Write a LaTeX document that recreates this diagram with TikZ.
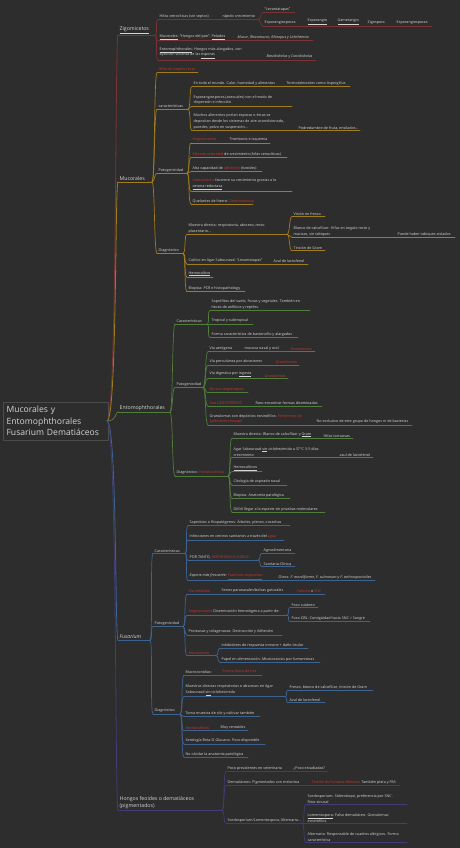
\documentclass[tikz,border=0pt]{standalone}
\usepackage{fontspec}
\setmainfont{Open Sans}
\definecolor{bg}{HTML}{2D2D2D}
\definecolor{txt}{HTML}{D4D4D4}
\definecolor{hl}{HTML}{C8372D}
\definecolor{zig}{HTML}{7A3232}
\definecolor{muc}{HTML}{A07C1C}
\definecolor{ento}{HTML}{4F7D3A}
\definecolor{fus}{HTML}{3D6391}
\definecolor{dem}{HTML}{3F3C78}
\newcommand\rd[1]{\textcolor{hl}{#1}}
% topic: name, x, y of underline, right end, colour, text
\newcommand\tp[6]{%
  \coordinate (#1-l) at (#2,#3);
  \coordinate (#1-r) at (#4,#3);
  \draw[#5,uline] (#1-l) -- (#1-r);
  \node[lbl] (#1) at (#1-l) {#6};}
\tikzset{
  lbl/.style={anchor=south west, inner xsep=1.5pt, inner ysep=1pt, text=txt, align=left,
    font=\fontsize{3.7}{5.9}\selectfont},
  big/.style={lbl, font=\fontsize{5.2}{6.8}\selectfont},
  uline/.style={line width=0.7pt},
  br/.style={out=0, in=180, out distance=3pt, in distance=3pt},
  trunk/.style={out=0, in=180, out distance=10pt, in distance=3pt, line width=0.8pt}
}
\begin{document}
\begin{tikzpicture}[x=1pt, y=-1pt, line cap=round, line join=round]
\fill[bg] (0,0) rectangle (460,848);
\node[draw=black!70, fill=bg, anchor=north west, minimum width=104pt, minimum height=38pt,
  text width=98pt, align=left, text=txt, font=\fontsize{8.6}{11.5}\selectfont]
  (root) at (3,402) {Mucorales y\\Entomophthorales\\Fusarium Dematiáceos};
\coordinate (root-r) at (107,421);

% nivel 1
\tp{zig}{118}{35}{155}{zig}{}
\node[big] at (zig-l) {\underline{Zigomicetos}};
\tp{muc}{118}{182}{152}{muc}{}
\node[big] at (muc-l) {Mucorales};
\tp{ento}{118}{412}{170}{ento}{}
\node[big] at (ento-l) {Entomophthorales};
\tp{fus}{118}{640}{150}{fus}{}
\node[big] at (fus-l) {\textit{Fusarium}};
\tp{dem}{118}{810}{222}{dem}{}
\node[big] at (dem-l) {Hongos feoides o dematiáceos\\(pigmentados)};
\foreach \b in {zig,muc,ento,fus,dem}
  \draw[\b,trunk] (root-r) to (\b-l);

% Zigomicetos
\tp{hifas}{158}{19.5}{258}{zig}{Hifas cenocíticas (sin septos)}
\node[lbl] (rapido) at (221,19.5) {rápido crecimiento};
\tp{levan}{263}{12.7}{295}{zig}{“Levantatapas”}
\tp{espo}{263}{26}{432}{zig}{Esporangiosporas}
\node[lbl] (espo2) at (306,26) {\underline{Esporangio}};
\node[lbl] (espo3) at (336,26) {\underline{Gametangio}};
\node[lbl] (espo4) at (366,26) {Zigospora};
\node[lbl] (espo5) at (395,26) {Esporangiosporas};
\tp{mucor}{158}{40.7}{313}{zig}{\underline{Mucorales}: “Hongos del pan”. \underline{Pelados}}
\node[lbl] (mucor2) at (236,40.7) {\textit{Mucor, Rhizomucor, Rhizopus y Lichtheimia}};
\tp{entom}{158}{60}{316}{zig}{\underline{Entomophthorales}: Hongos más alargados, con\\eyección violenta de las \underline{esporas}}
\node[lbl] (entom2) at (265,60) {\textit{Basidiobolus y Conidiobolus}};
\foreach \c in {hifas,mucor,entom}
  \draw[zig,uline] (zig-r) to[br] (\c-l);
\foreach \c in {levan,espo}
  \draw[zig,uline] (hifas-r) to[br] (\c-l);

% Mucorales
\tp{angulo}{157}{72.7}{198}{muc}{\rd{Hifas en ángulo recto}}
\tp{caract}{157}{109}{188}{muc}{características}
\tp{ca1}{192}{86.7}{350}{muc}{En todo el mundo. Calor, humedad y alimentos}
\node[lbl] (ca1b) at (285,86.7) {Termotolerantes como Aspergillus};
\tp{ca2}{192}{106}{292}{muc}{Esporangiosporas (asexuales) son el modo de\\dispersión e infección}
\tp{ca3}{192}{130.7}{360}{muc}{Muchos alimentos portan esporas o éstas se\\depositan desde los sistemas de aire acondicionado,\\paredes, polvo en suspensión...}
\node[lbl] (ca3b) at (297,130.7) {Podredumbre de fruta, ensilados...};
\tp{patog}{157}{173.3}{187}{muc}{Patogenicidad}
\tp{pa1}{191}{143}{270}{muc}{\rd{Angioinvasivo}}
\node[lbl] (pa1b) at (228,143) {Trombosis e isquemia};
\tp{pa2}{191}{157.7}{287}{muc}{\rd{Elevada velocidad} de crecimiento (hifas cenocíticas)}
\tp{pa3}{191}{171.7}{262}{muc}{Alta capacidad de \rd{adhesión} (rizoides)}
\tp{pa4}{191}{191}{292}{muc}{\rd{Cetoacidosis} favorece su crecimiento gracias a la\\\underline{cetona reductasa}}
\tp{pa5}{191}{204}{253}{muc}{Quelantes de hierro: \rd{Deferoxamina}}
\tp{diag}{157}{253.3}{183}{muc}{Diagnóstico}
\tp{di1}{187}{234.3}{287}{muc}{Muestra directa: respiratoria, absceso, resto\\placentario...}
\tp{di1a}{292}{216.7}{325}{muc}{Visión en fresco}
\tp{di1b}{292}{237.3}{455}{muc}{Blanco de calcoflúor: Hifas en ángulo recto y\\macizas, sin tabiques}
\node[lbl] (di1bb) at (396,237.3) {Puede haber tabiques aislados};
\tp{di1c}{292}{250.7}{325}{muc}{Tinción de Gram}
\tp{di2}{187}{264}{308}{muc}{Cultivo en Agar Sabouraud: “Levantatapas”}
\node[lbl] (di2b) at (272,264) {Azul de lactofenol};
\tp{di3}{187}{277.3}{213}{muc}{\underline{Hemocultivo}}
\tp{di4}{187}{291.7}{245}{muc}{Biopsia: PCR e histopathology}
\foreach \c in {angulo,caract,patog,diag}
  \draw[muc,uline] (muc-r) to[br] (\c-l);
\foreach \c in {ca1,ca2,ca3}
  \draw[muc,uline] (caract-r) to[br] (\c-l);
\foreach \c in {pa1,pa2,pa3,pa4,pa5}
  \draw[muc,uline] (patog-r) to[br] (\c-l);
\foreach \c in {di1,di2,di3,di4}
  \draw[muc,uline] (diag-r) to[br] (\c-l);
\foreach \c in {di1a,di1b,di1c}
  \draw[muc,uline] (di1-r) to[br] (\c-l);

% Entomophthorales
\tp{ecar}{175}{324}{207}{ento}{Características}
\tp{ec1}{210}{310.7}{310}{ento}{Saprófitos del suelo, frutas y vegetales. También en\\heces de anfibios y reptiles.}
\tp{ec2}{210}{324}{253}{ento}{Tropical y subtropical}
\tp{ec3}{210}{337.3}{298}{ento}{Forma característica de bastoncillo y alargados}
\tp{epat}{175}{387.3}{203}{ento}{Patogenicidad}
\tp{ep1}{208}{351.7}{315}{ento}{Vía aerógena}
\node[lbl] (ep1b) at (243,351.7) {mucosa nasal y oral};
\node[lbl] (ep1c) at (289,351.7) {\rd{Granulomas}};
\tp{ep2}{208}{365}{299}{ento}{Vía percutánea por abrasiones}
\node[lbl] (ep2b) at (274,365) {\rd{Granulomas}};
\tp{ep3}{208}{378.3}{288}{ento}{Vía digestiva por \underline{ingesta}}
\node[lbl] (ep3b) at (263,378.3) {\rd{Granulomas}};
\tp{ep4}{208}{392.7}{248}{ento}{\rd{No son angiotropos}}
\tp{ep5}{208}{406}{322}{ento}{\rd{Son LINFOTRÓPOS}}
\node[lbl] (ep5b) at (254,406) {Raro encontrar formas diseminadas};
\tp{ep6}{208}{425}{412}{ento}{Granulomas con depósitos eosinófilos: \rd{Fenómeno de}\\\rd{Splendore-Hoeppli}}
\node[lbl] (ep6b) at (315,425) {No exclusivo de este grupo de hongos ni de bacterias};
\tp{ediag}{175}{476}{228}{ento}{Diagnóstico: \rd{Historia clínica}}
\tp{ed1}{232}{438.3}{353}{ento}{Muestra directa: Blanco de calcoflúor y \underline{Gram}}
\node[lbl] (ed1b) at (322,438.3) {Hifas tortuosas};
\tp{ed2}{232}{457.3}{373}{ento}{Agar Sabouraud \underline{sin} cicloheximida a 37°C 3-5 días:\\crecimiento}
\node[lbl] (ed2b) at (338,457.3) {azul de lactofenol};
\tp{ed3}{232}{471.7}{262}{ento}{\underline{Hemocultivos}}
\tp{ed4}{232}{485}{287}{ento}{Citología de aspirado nasal}
\tp{ed5}{232}{498.3}{290}{ento}{Biopsia: Anatomía patológica}
\tp{ed6}{232}{512.3}{325}{ento}{Difícil llegar a la especie sin pruebas moleculares}
\foreach \c in {ecar,epat,ediag}
  \draw[ento,uline] (ento-r) to[br] (\c-l);
\foreach \c in {ec1,ec2,ec3}
  \draw[ento,uline] (ecar-r) to[br] (\c-l);
\foreach \c in {ep1,ep2,ep3,ep4,ep5,ep6}
  \draw[ento,uline] (epat-r) to[br] (\c-l);
\foreach \c in {ed1,ed2,ed3,ed4,ed5,ed6}
  \draw[ento,uline] (ediag-r) to[br] (\c-l);

% Fusarium
\tp{fcar}{153}{553.3}{185}{fus}{Características}
\tp{fc1}{188}{525.7}{290}{fus}{Saprobios o fitopatógenos: Árboles, pienso, cosechas}
\tp{fc2}{188}{540}{284}{fus}{Infecciones en centros sanitarios a través del \rd{agua}}
\tp{fc3}{188}{560}{258}{fus}{POR TANTO, \rd{IMPORTANCIA DOBLE:}}
\tp{fc3a}{262}{553.3}{295}{fus}{Agroalimentaria}
\tp{fc3b}{262}{566.7}{295}{fus}{Sanitaria-Clínica}
\tp{fc4}{188}{580.7}{375}{fus}{\textit{Especie más frecuente: \rd{\underline{Fusarium oxysporum}}}}
\node[lbl] (fc4b) at (277,580.7) {Otros: \textit{F. moniliforme, F. culmorum y F. arthrosporioides}};
\tp{fpat}{153}{626.7}{183}{fus}{Patogenicidad}
\tp{fp1}{187}{594}{325}{fus}{\rd{Vía inhalada}}
\node[lbl] (fp1b) at (220,594) {Senos paranasales/bolsas guturales};
\node[lbl] (fp1c) at (295,594) {\rd{Pulmón} o \rd{SNC}};
\tp{fp2}{187}{615}{287}{fus}{\rd{Angioinvasor}: Diseminación hematógena a partir de:}
\tp{fp2a}{290}{607.3}{318}{fus}{Foco cutáneo}
\tp{fp2b}{290}{621.7}{370}{fus}{Foco ORL: Contigüidad hacia SNC > Sangre}
\tp{fp3}{187}{635}{282}{fus}{Proteasas y colagenasas: Destrucción y Adhesión}
\tp{fp4}{187}{655.7}{216}{fus}{\rd{Micotoxinas}}
\tp{fp4a}{220}{648.3}{308}{fus}{Inhibidores de respuesta inmune + daño tisular}
\tp{fp4b}{220}{662.3}{320}{fus}{Papel en alimentación: Micotoxicosis por fumonisinas}
\tp{fdiag}{153}{714}{180}{fus}{Diagnóstico}
\tp{fd1}{184}{675}{262}{fus}{Macroconidias:}
\node[lbl] (fd1b) at (221,675) {\rd{Forma típica de hoz}};
\tp{fd2}{184}{696.7}{285}{fus}{Muestras directas respiratorias o abscesos en Agar\\Sabouraud \underline{sin} cicloheximida}
\tp{fd2a}{288}{690}{373}{fus}{Fresco, blanco de calcoflúor, tinción de Gram}
\tp{fd2b}{288}{702.7}{325}{fus}{Azul de lactofenol}
\tp{fd3}{184}{716.7}{260}{fus}{Toma muestra de silo y cultivar también}
\tp{fd4}{184}{730.7}{248}{fus}{\rd{Hemocultivos}}
\node[lbl] (fd4b) at (219,730.7) {Muy rentables};
\tp{fd5}{184}{744}{265}{fus}{Serología Beta-D-Glucano. Poco disponible}
\tp{fd6}{184}{757.3}{248}{fus}{No olvidar la anatomía patológica}
\foreach \c in {fcar,fpat,fdiag}
  \draw[fus,uline] (fus-r) to[br] (\c-l);
\foreach \c in {fc1,fc2,fc3,fc4}
  \draw[fus,uline] (fcar-r) to[br] (\c-l);
\foreach \c in {fc3a,fc3b}
  \draw[fus,uline] (fc3-r) to[br] (\c-l);
\foreach \c in {fp1,fp2,fp3,fp4}
  \draw[fus,uline] (fpat-r) to[br] (\c-l);
\foreach \c in {fp2a,fp2b}
  \draw[fus,uline] (fp2-r) to[br] (\c-l);
\foreach \c in {fp4a,fp4b}
  \draw[fus,uline] (fp4-r) to[br] (\c-l);
\foreach \c in {fd1,fd2,fd3,fd4,fd5,fd6}
  \draw[fus,uline] (fdiag-r) to[br] (\c-l);
\foreach \c in {fd2a,fd2b}
  \draw[fus,uline] (fd2-r) to[br] (\c-l);

% Hongos feoides
\tp{h1}{226}{771.7}{328}{dem}{Poco prevalentes en veterinaria}
\node[lbl] (h1b) at (292,771.7) {¿Poco estudiadas?};
\tp{h2}{226}{785.7}{400}{dem}{Dematiáceos: Pigmentados con melanina}
\node[lbl] (h2b) at (310,785.7) {\rd{Tinción de Fontana-Masson}. También plata y PAS};
\tp{h3}{226}{823.3}{302}{dem}{Scedosporium/Lomentospora, Alternaria...}
\tp{h3a}{306}{804.3}{407}{dem}{Scedosporium: Siderotropo, preferencia por SNC.\\Rino-sinusal}
\tp{h3b}{306}{823.3}{407}{dem}{\underline{Lomentospora}: Falso dematiáceo. Granulomas\\eosinófilos.}
\tp{h3c}{306}{842.7}{407}{dem}{Alternaria: Responsable de cuadros alérgicos. Forma\\característica}
\foreach \c in {h1,h2,h3}
  \draw[dem,uline] (dem-r) to[br] (\c-l);
\foreach \c in {h3a,h3b,h3c}
  \draw[dem,uline] (h3-r) to[br] (\c-l);
\end{tikzpicture}
\end{document}
